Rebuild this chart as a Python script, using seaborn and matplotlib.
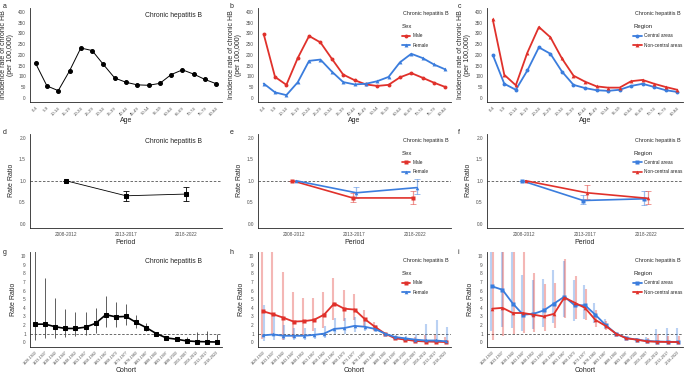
import numpy as np
import pandas as pd
import matplotlib
matplotlib.use('Agg')
import matplotlib.pyplot as plt
import seaborn as sns

# ---- data ----
ages = ['0-4', '5-9', '10-14', '15-19', '20-24', '25-29', '30-34', '35-39', '40-44',
        '45-49', '50-54', '55-59', '60-64', '65-69', '70-74', '75-79', '80-84']
inc_all = [160, 55, 33, 125, 232, 220, 155, 92, 72, 60, 58, 67, 108, 130, 110, 85, 65]
inc_male = [297, 97, 60, 185, 288, 258, 182, 108, 82, 62, 55, 60, 95, 115, 93, 70, 50]
inc_female = [66, 25, 12, 72, 172, 178, 122, 73, 62, 65, 77, 97, 165, 205, 185, 155, 132]
inc_central = [200, 65, 37, 127, 235, 205, 122, 60, 45, 35, 32, 37, 55, 65, 50, 35, 27]
inc_noncentral = [365, 107, 58, 210, 330, 282, 183, 103, 75, 53, 47, 47, 77, 83, 65, 50, 37]

periods = ['2008-2012', '2013-2017', '2018-2022']
per_all = [1.0, 0.65, 0.69]
per_all_lo = [1.0, 0.53, 0.54]
per_all_hi = [1.0, 0.77, 0.86]
per_male = [1.0, 0.60, 0.60]
per_male_lo = [1.0, 0.50, 0.47]
per_male_hi = [1.0, 0.71, 0.76]
per_female = [1.0, 0.72, 0.84]
per_female_lo = [1.0, 0.60, 0.68]
per_female_hi = [1.0, 0.86, 1.03]
per_central = [1.0, 0.54, 0.58]
per_central_lo = [1.0, 0.46, 0.43]
per_central_hi = [1.0, 0.66, 0.75]
per_noncentral = [1.0, 0.72, 0.59]
per_noncentral_lo = [1.0, 0.58, 0.45]
per_noncentral_hi = [1.0, 0.89, 0.76]

cohorts = ['1928-1932', '1933-1937', '1938-1942', '1943-1947', '1948-1952', '1953-1957',
           '1958-1962', '1963-1967', '1968-1972', '1973-1977', '1978-1982', '1983-1987',
           '1988-1992', '1993-1997', '1998-2002', '2003-2007', '2008-2012', '2013-2017',
           '2018-2022']
coh_all = [2.1, 2.1, 1.8, 1.6, 1.6, 1.75, 2.2, 3.2, 2.95, 3.0, 2.3, 1.7, 1.0, 0.5, 0.35, 0.15, 0.08, 0.05, 0.02]
coh_all_lo = [0.3, 0.5, 0.5, 0.6, 0.7, 0.85, 1.1, 1.8, 1.8, 2.0, 1.6, 1.3, 1.0, 0.4, 0.2, 0.0, 0.0, 0.0, 0.0]
coh_all_hi = [11.0, 7.5, 5.1, 3.9, 3.5, 3.5, 4.0, 5.4, 4.7, 4.5, 3.2, 2.2, 1.0, 0.6, 0.5, 0.6, 1.2, 1.3, 1.0]
coh_male = [3.6, 3.25, 2.85, 2.4, 2.45, 2.6, 3.2, 4.5, 3.9, 3.8, 2.7, 1.8, 1.0, 0.45, 0.3, 0.15, 0.08, 0.05, 0.02]
coh_male_lo = [0.4, 0.9, 0.3, 0.5, 0.8, 1.3, 1.7, 2.6, 2.5, 2.6, 1.9, 1.3, 1.0, 0.35, 0.15, 0.0, 0.0, 0.0, 0.0]
coh_male_hi = [11.0, 11.0, 8.2, 5.8, 5.2, 5.1, 5.8, 7.5, 6.1, 5.6, 3.7, 2.4, 1.0, 0.6, 0.5, 0.6, 0.8, 0.8, 0.6]
coh_female = [0.8, 0.9, 0.75, 0.75, 0.75, 0.85, 1.0, 1.55, 1.65, 1.9, 1.8, 1.55, 1.0, 0.6, 0.45, 0.3, 0.2, 0.2, 0.1]
coh_female_lo = [0.1, 0.2, 0.25, 0.3, 0.3, 0.4, 0.5, 0.9, 0.9, 1.2, 1.3, 1.2, 1.0, 0.4, 0.25, 0.05, 0.0, 0.0, 0.0]
coh_female_hi = [4.3, 3.1, 2.05, 1.7, 1.6, 1.7, 1.9, 2.8, 2.8, 2.9, 2.5, 2.0, 1.0, 0.8, 0.7, 0.95, 2.15, 2.6, 1.75]
coh_central = [6.5, 6.1, 4.5, 3.2, 3.3, 3.7, 4.5, 5.3, 4.3, 4.3, 3.2, 2.0, 1.0, 0.5, 0.3, 0.15, 0.08, 0.05, 0.03]
coh_central_lo = [1.3, 1.8, 1.6, 1.3, 1.5, 1.8, 2.2, 2.9, 2.5, 2.7, 2.2, 1.5, 1.0, 0.35, 0.15, 0.0, 0.0, 0.0, 0.0]
coh_central_hi = [11.0, 11.0, 11.0, 7.8, 7.2, 7.4, 8.4, 9.5, 7.2, 6.7, 4.6, 2.7, 1.0, 0.7, 0.5, 0.65, 1.5, 1.6, 1.65]
coh_noncentral = [3.9, 4.0, 3.4, 3.4, 3.2, 3.0, 3.3, 5.2, 4.6, 4.0, 2.6, 1.9, 1.0, 0.45, 0.3, 0.1, 0.05, 0.03, 0.02]
coh_noncentral_lo = [0.3, 0.7, 0.9, 1.1, 1.2, 1.3, 1.6, 2.8, 2.7, 2.6, 1.8, 1.4, 1.0, 0.3, 0.15, 0.0, 0.0, 0.0, 0.0]
coh_noncentral_hi = [11.0, 11.0, 11.0, 11.0, 8.1, 6.8, 6.9, 9.7, 7.7, 6.2, 3.7, 2.5, 1.0, 0.6, 0.45, 0.5, 1.0, 0.7, 0.7]

RED = '#E0312B'
BLUE = '#3B7DDD'
TITLE = 'Chronic hepatitis B'
TICKC = '#4D4D4D'

sns.set_style('white')
plt.rcParams['font.family'] = ['Liberation Sans', 'DejaVu Sans']
plt.rcParams['axes.linewidth'] = 0.6
plt.rcParams['xtick.major.width'] = 0.5
plt.rcParams['ytick.major.width'] = 0.5
plt.rcParams['xtick.major.pad'] = 1.0
plt.rcParams['ytick.major.pad'] = 1.2

fig = plt.figure(figsize=(6.85, 3.74), dpi=100)
W, H = 685, 374


def make_ax(x0, x1, y0, y1):
    return fig.add_axes([x0 / W, 1 - y1 / H, (x1 - x0) / W, (y1 - y0) / H])


cols = [(30, 222), (258, 451), (487, 683)]
rows = [(7.7, 102), (133.5, 228), (252, 346.5)]


def style_ax(ax, labels, xlabel, ylabel, ylim, yticks, ytl, margin, rotsize, xpad):
    sns.despine(ax=ax)
    n = len(labels)
    ax.set_xlim(-margin, n - 1 + margin)
    ax.set_ylim(*ylim)
    ax.set_xticks(range(n))
    if rotsize:
        ax.set_xticklabels(labels, rotation=45, ha='right', rotation_mode='anchor', fontsize=rotsize, color=TICKC)
    else:
        ax.set_xticklabels(labels, fontsize=3.4, color=TICKC)
    ax.set_yticks(yticks)
    ax.set_yticklabels(ytl, fontsize=3.4, color=TICKC)
    ax.set_xlabel(xlabel, fontsize=5, labelpad=xpad)
    ax.set_ylabel(ylabel, fontsize=5, labelpad=2.5, linespacing=1.0)
    ax.tick_params(axis='both', direction='out', length=1.8, color='#333333')
    ax.grid(False)


def add_title(ax, single, y):
    if single:
        ax.text(0.745, y, TITLE, transform=ax.transAxes, fontsize=4.9, ha='center', va='center')
    else:
        ax.text(0.99, y, TITLE, transform=ax.transAxes, fontsize=3.9, ha='right', va='center')


def add_legend(ax, title, y):
    ax.legend(loc='upper left', bbox_to_anchor=(0.745, y), frameon=False, title=title,
              fontsize=3.4, title_fontsize=4.3, handlelength=1.8, labelspacing=0.95,
              borderaxespad=0, borderpad=0, handletextpad=0.6, alignment='left')


age_y = np.arange(0, 401, 50)
rr_y = [0.0, 0.5, 1.0, 1.5, 2.0]
coh_y = list(range(0, 11))
ylab1 = 'Incidence rate of chronic HB\n(per 100,000)'

# ---- row 1: age ----
ax = make_ax(*cols[0], *rows[0])
df = pd.DataFrame({'x': range(len(ages)), 'y': inc_all})
sns.lineplot(data=df, x='x', y='y', ax=ax, color='black', lw=0.7, marker='o', ms=2.8, mec='black')
style_ax(ax, ages, 'Age', ylab1, (-20, 420), age_y, [str(v) for v in age_y], 0.5, 3.1, 0.8)
add_title(ax, True, 0.92)

for ci, (s1, s2, n1, n2, c1, c2, m1, m2, lt) in enumerate([
        (inc_male, inc_female, 'Male', 'Female', RED, BLUE, 'o', '^', 'Sex'),
        (inc_central, inc_noncentral, 'Central areas', 'Non-central areas', BLUE, RED, 'o', '^', 'Region')]):
    ax = make_ax(*cols[ci + 1], *rows[0])
    df = pd.DataFrame({'x': list(range(len(ages))) * 2, 'y': s1 + s2,
                       'g': [n1] * len(ages) + [n2] * len(ages)})
    sns.lineplot(data=df, x='x', y='y', hue='g', style='g', ax=ax, palette={n1: c1, n2: c2},
                 markers={n1: m1, n2: m2}, dashes=False, lw=1.3, ms=2.8, mec='none')
    style_ax(ax, ages, 'Age', ylab1, (-20, 420), age_y, [str(v) for v in age_y], 0.5, 3.1, 0.8)
    add_title(ax, False, 0.94)
    add_legend(ax, lt, 0.83)

# ---- row 2: period ----
ax = make_ax(*cols[0], *rows[1])
ax.axhline(1.0, color='#555555', ls=(0, (3, 2)), lw=0.6)
xs = np.arange(len(periods))
ax.errorbar(xs, per_all, yerr=[np.array(per_all) - np.array(per_all_lo), np.array(per_all_hi) - np.array(per_all)],
            fmt='none', ecolor='black', elinewidth=0.6, capsize=2.5, capthick=0.6)
df = pd.DataFrame({'x': xs, 'y': per_all})
sns.lineplot(data=df, x='x', y='y', ax=ax, color='black', lw=0.6, marker='s', ms=2.6, mec='black')
style_ax(ax, periods, 'Period', 'Rate Ratio', (-0.1, 2.1), rr_y, ['0.0', '0.5', '1.0', '1.5', '2.0'], 0.6, None, 1.2)
add_title(ax, True, 0.92)

for ci, (s1, l1, h1, s2, l2, h2, n1, n2, c1, c2, lt) in enumerate([
        (per_male, per_male_lo, per_male_hi, per_female, per_female_lo, per_female_hi,
         'Male', 'Female', RED, BLUE, 'Sex'),
        (per_central, per_central_lo, per_central_hi, per_noncentral, per_noncentral_lo, per_noncentral_hi,
         'Central areas', 'Non-central areas', BLUE, RED, 'Region')]):
    ax = make_ax(*cols[ci + 1], *rows[1])
    ax.axhline(1.0, color='#555555', ls=(0, (3, 2)), lw=0.6)
    for s, lo, hi, c, off in [(s1, l1, h1, c1, -0.03), (s2, l2, h2, c2, 0.03)]:
        s, lo, hi = np.array(s), np.array(lo), np.array(hi)
        ax.errorbar(xs + off, s, yerr=[s - lo, hi - s], fmt='none', ecolor=c, alpha=0.5,
                    elinewidth=0.9, capsize=2, capthick=0.7)
    df = pd.DataFrame({'x': list(xs - 0.03) + list(xs + 0.03), 'y': s1 + s2,
                       'g': [n1] * 3 + [n2] * 3})
    sns.lineplot(data=df, x='x', y='y', hue='g', style='g', ax=ax, palette={n1: c1, n2: c2},
                 markers={n1: 's', n2: '^'}, dashes=False, lw=1.2, ms=2.6, mec='none')
    style_ax(ax, periods, 'Period', 'Rate Ratio', (-0.1, 2.1), rr_y, ['0.0', '0.5', '1.0', '1.5', '2.0'], 0.6, None, 1.2)
    add_title(ax, False, 0.93)
    add_legend(ax, lt, 0.82)

# ---- row 3: cohort ----
ax = make_ax(*cols[0], *rows[2])
xc = np.arange(len(cohorts))
ax.axhline(1.0, color='#555555', ls=(0, (3, 2)), lw=0.6)
ax.vlines(xc, coh_all_lo, coh_all_hi, color='#444444', lw=0.6)
df = pd.DataFrame({'x': xc, 'y': coh_all})
sns.lineplot(data=df, x='x', y='y', ax=ax, color='black', lw=1.2, marker='s', ms=2.4, mec='black')
style_ax(ax, cohorts, 'Cohort', 'Rate Ratio', (-0.5, 10.5), coh_y, [str(v) for v in coh_y], 0.5, 2.7, 0.3)
add_title(ax, True, 0.9)

for ci, (s1, l1, h1, s2, l2, h2, n1, n2, c1, c2, lt) in enumerate([
        (coh_male, coh_male_lo, coh_male_hi, coh_female, coh_female_lo, coh_female_hi,
         'Male', 'Female', RED, BLUE, 'Sex'),
        (coh_central, coh_central_lo, coh_central_hi, coh_noncentral, coh_noncentral_lo, coh_noncentral_hi,
         'Central areas', 'Non-central areas', BLUE, RED, 'Region')]):
    ax = make_ax(*cols[ci + 1], *rows[2])
    ax.axhline(1.0, color='#555555', ls=(0, (3, 2)), lw=0.6)
    ax.vlines(xc - 0.08, l1, h1, color=c1, alpha=0.35, lw=1.5)
    ax.vlines(xc + 0.08, l2, h2, color=c2, alpha=0.35, lw=1.5)
    df = pd.DataFrame({'x': list(xc) * 2, 'y': s1 + s2,
                       'g': [n1] * len(cohorts) + [n2] * len(cohorts)})
    sns.lineplot(data=df, x='x', y='y', hue='g', style='g', ax=ax, palette={n1: c1, n2: c2},
                 markers={n1: 's', n2: '^'}, dashes=False, lw=1.3, ms=2.6, mec='none')
    style_ax(ax, cohorts, 'Cohort', 'Rate Ratio', (-0.5, 10.5), coh_y, [str(v) for v in coh_y], 0.5, 2.7, 0.3)
    add_title(ax, False, 0.91)
    add_legend(ax, lt, 0.80)

# panel letters
for lt, (px, py) in zip('abcdefghi', [(3, 6), (230, 6), (458, 6), (3, 132), (230, 132), (458, 132),
                                      (3, 252), (230, 252), (458, 252)]):
    fig.text(px / W, 1 - py / H, lt, fontsize=5, ha='left', va='center')

fig.savefig('out.png', dpi=100)
